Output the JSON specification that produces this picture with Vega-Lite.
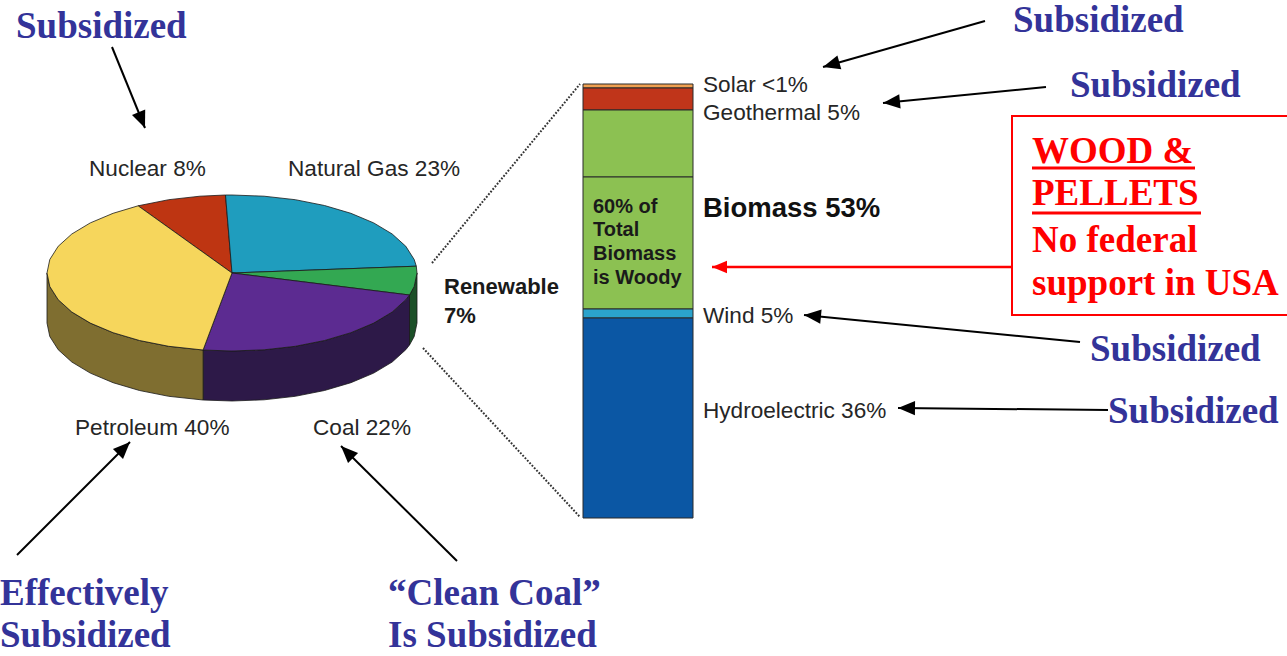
{
  "$schema": "https://vega.github.io/schema/vega-lite/v6.json",
  "width": 1287,
  "height": 656,
  "padding": 0,
  "autosize": {"type": "none"},
  "background": "white",
  "config": {"view": {"stroke": null}},
  "datasets": {
    "pie": [
      {"p": "Renewable side", "f": "side", "i": 0, "x": 417, "y": 273},
      {"p": "Renewable side", "f": "side", "i": 1, "x": 414.2, "y": 286.5},
      {"p": "Renewable side", "f": "side", "i": 2, "x": 409.5, "y": 295},
      {"p": "Renewable side", "f": "side", "i": 3, "x": 409.5, "y": 345},
      {"p": "Renewable side", "f": "side", "i": 4, "x": 414.2, "y": 336.5},
      {"p": "Renewable side", "f": "side", "i": 5, "x": 417, "y": 323},
      {"p": "Renewable side", "f": "side", "i": 6, "x": 417, "y": 273},

      {"p": "Coal side", "f": "side", "i": 0, "x": 409.5, "y": 295},
      {"p": "Coal side", "f": "side", "i": 1, "x": 405.8, "y": 299.7},
      {"p": "Coal side", "f": "side", "i": 2, "x": 392.2, "y": 312},
      {"p": "Coal side", "f": "side", "i": 3, "x": 373.7, "y": 323.1},
      {"p": "Coal side", "f": "side", "i": 4, "x": 350.9, "y": 332.7},
      {"p": "Coal side", "f": "side", "i": 5, "x": 324.5, "y": 340.5},
      {"p": "Coal side", "f": "side", "i": 6, "x": 295.3, "y": 346.3},
      {"p": "Coal side", "f": "side", "i": 7, "x": 264.1, "y": 349.8},
      {"p": "Coal side", "f": "side", "i": 8, "x": 232, "y": 351},
      {"p": "Coal side", "f": "side", "i": 9, "x": 203.1, "y": 350},
      {"p": "Coal side", "f": "side", "i": 10, "x": 203.1, "y": 400},
      {"p": "Coal side", "f": "side", "i": 11, "x": 232, "y": 401},
      {"p": "Coal side", "f": "side", "i": 12, "x": 264.1, "y": 399.8},
      {"p": "Coal side", "f": "side", "i": 13, "x": 295.3, "y": 396.3},
      {"p": "Coal side", "f": "side", "i": 14, "x": 324.5, "y": 390.5},
      {"p": "Coal side", "f": "side", "i": 15, "x": 350.9, "y": 382.7},
      {"p": "Coal side", "f": "side", "i": 16, "x": 373.7, "y": 373.1},
      {"p": "Coal side", "f": "side", "i": 17, "x": 392.2, "y": 362},
      {"p": "Coal side", "f": "side", "i": 18, "x": 405.8, "y": 349.7},
      {"p": "Coal side", "f": "side", "i": 19, "x": 409.5, "y": 345},
      {"p": "Coal side", "f": "side", "i": 20, "x": 409.5, "y": 295},

      {"p": "Petroleum side", "f": "side", "i": 0, "x": 203.1, "y": 350},
      {"p": "Petroleum side", "f": "side", "i": 1, "x": 168.7, "y": 346.3},
      {"p": "Petroleum side", "f": "side", "i": 2, "x": 139.5, "y": 340.5},
      {"p": "Petroleum side", "f": "side", "i": 3, "x": 113.1, "y": 332.7},
      {"p": "Petroleum side", "f": "side", "i": 4, "x": 90.3, "y": 323.1},
      {"p": "Petroleum side", "f": "side", "i": 5, "x": 71.8, "y": 312},
      {"p": "Petroleum side", "f": "side", "i": 6, "x": 58.2, "y": 299.7},
      {"p": "Petroleum side", "f": "side", "i": 7, "x": 49.8, "y": 286.5},
      {"p": "Petroleum side", "f": "side", "i": 8, "x": 47, "y": 273},
      {"p": "Petroleum side", "f": "side", "i": 9, "x": 47, "y": 323},
      {"p": "Petroleum side", "f": "side", "i": 10, "x": 49.8, "y": 336.5},
      {"p": "Petroleum side", "f": "side", "i": 11, "x": 58.2, "y": 349.7},
      {"p": "Petroleum side", "f": "side", "i": 12, "x": 71.8, "y": 362},
      {"p": "Petroleum side", "f": "side", "i": 13, "x": 90.3, "y": 373.1},
      {"p": "Petroleum side", "f": "side", "i": 14, "x": 113.1, "y": 382.7},
      {"p": "Petroleum side", "f": "side", "i": 15, "x": 139.5, "y": 390.5},
      {"p": "Petroleum side", "f": "side", "i": 16, "x": 168.7, "y": 396.3},
      {"p": "Petroleum side", "f": "side", "i": 17, "x": 203.1, "y": 400},
      {"p": "Petroleum side", "f": "side", "i": 18, "x": 203.1, "y": 350},

      {"p": "Nuclear", "f": "top", "i": 0, "x": 232, "y": 273},
      {"p": "Nuclear", "f": "top", "i": 1, "x": 138.1, "y": 205.8},
      {"p": "Nuclear", "f": "top", "i": 2, "x": 168.7, "y": 199.7},
      {"p": "Nuclear", "f": "top", "i": 3, "x": 199.9, "y": 196.2},
      {"p": "Nuclear", "f": "top", "i": 4, "x": 225.5, "y": 195},
      {"p": "Nuclear", "f": "top", "i": 5, "x": 232, "y": 273},

      {"p": "Natural Gas", "f": "top", "i": 0, "x": 232, "y": 273},
      {"p": "Natural Gas", "f": "top", "i": 1, "x": 225.5, "y": 195},
      {"p": "Natural Gas", "f": "top", "i": 2, "x": 232, "y": 195},
      {"p": "Natural Gas", "f": "top", "i": 3, "x": 264.1, "y": 196.2},
      {"p": "Natural Gas", "f": "top", "i": 4, "x": 295.3, "y": 199.7},
      {"p": "Natural Gas", "f": "top", "i": 5, "x": 324.5, "y": 205.5},
      {"p": "Natural Gas", "f": "top", "i": 6, "x": 350.9, "y": 213.3},
      {"p": "Natural Gas", "f": "top", "i": 7, "x": 373.7, "y": 222.9},
      {"p": "Natural Gas", "f": "top", "i": 8, "x": 392.2, "y": 234},
      {"p": "Natural Gas", "f": "top", "i": 9, "x": 405.8, "y": 246.3},
      {"p": "Natural Gas", "f": "top", "i": 10, "x": 414.2, "y": 259.5},
      {"p": "Natural Gas", "f": "top", "i": 11, "x": 416.3, "y": 266.2},
      {"p": "Natural Gas", "f": "top", "i": 12, "x": 232, "y": 273},

      {"p": "Renewable", "f": "top", "i": 0, "x": 232, "y": 273},
      {"p": "Renewable", "f": "top", "i": 1, "x": 416.3, "y": 266.2},
      {"p": "Renewable", "f": "top", "i": 2, "x": 417, "y": 273},
      {"p": "Renewable", "f": "top", "i": 3, "x": 414.2, "y": 286.5},
      {"p": "Renewable", "f": "top", "i": 4, "x": 409.5, "y": 295},
      {"p": "Renewable", "f": "top", "i": 5, "x": 232, "y": 273},

      {"p": "Coal", "f": "top", "i": 0, "x": 232, "y": 273},
      {"p": "Coal", "f": "top", "i": 1, "x": 409.5, "y": 295},
      {"p": "Coal", "f": "top", "i": 2, "x": 405.8, "y": 299.7},
      {"p": "Coal", "f": "top", "i": 3, "x": 392.2, "y": 312},
      {"p": "Coal", "f": "top", "i": 4, "x": 373.7, "y": 323.1},
      {"p": "Coal", "f": "top", "i": 5, "x": 350.9, "y": 332.7},
      {"p": "Coal", "f": "top", "i": 6, "x": 324.5, "y": 340.5},
      {"p": "Coal", "f": "top", "i": 7, "x": 295.3, "y": 346.3},
      {"p": "Coal", "f": "top", "i": 8, "x": 264.1, "y": 349.8},
      {"p": "Coal", "f": "top", "i": 9, "x": 232, "y": 351},
      {"p": "Coal", "f": "top", "i": 10, "x": 203.1, "y": 350},
      {"p": "Coal", "f": "top", "i": 11, "x": 232, "y": 273},

      {"p": "Petroleum", "f": "top", "i": 0, "x": 232, "y": 273},
      {"p": "Petroleum", "f": "top", "i": 1, "x": 203.1, "y": 350},
      {"p": "Petroleum", "f": "top", "i": 2, "x": 168.7, "y": 346.3},
      {"p": "Petroleum", "f": "top", "i": 3, "x": 139.5, "y": 340.5},
      {"p": "Petroleum", "f": "top", "i": 4, "x": 113.1, "y": 332.7},
      {"p": "Petroleum", "f": "top", "i": 5, "x": 90.3, "y": 323.1},
      {"p": "Petroleum", "f": "top", "i": 6, "x": 71.8, "y": 312},
      {"p": "Petroleum", "f": "top", "i": 7, "x": 58.2, "y": 299.7},
      {"p": "Petroleum", "f": "top", "i": 8, "x": 49.8, "y": 286.5},
      {"p": "Petroleum", "f": "top", "i": 9, "x": 47, "y": 273},
      {"p": "Petroleum", "f": "top", "i": 10, "x": 49.8, "y": 259.5},
      {"p": "Petroleum", "f": "top", "i": 11, "x": 58.2, "y": 246.3},
      {"p": "Petroleum", "f": "top", "i": 12, "x": 71.8, "y": 234},
      {"p": "Petroleum", "f": "top", "i": 13, "x": 90.3, "y": 222.9},
      {"p": "Petroleum", "f": "top", "i": 14, "x": 113.1, "y": 213.3},
      {"p": "Petroleum", "f": "top", "i": 15, "x": 138.1, "y": 205.8},
      {"p": "Petroleum", "f": "top", "i": 16, "x": 232, "y": 273}
    ]
  },
  "layer": [
    {
      "data": {"name": "pie"},
      "transform": [{"filter": "datum.f === 'side'"}],
      "mark": {"type": "line", "filled": true, "stroke": "#1a1a1a", "strokeWidth": 0.8, "strokeJoin": "round"},
      "encoding": {
        "x": {"field": "x", "type": "quantitative", "scale": {"domain": [0, 1287], "nice": false, "zero": false}, "axis": null},
        "y": {"field": "y", "type": "quantitative", "scale": {"domain": [0, 656], "nice": false, "zero": false, "reverse": true}, "axis": null},
        "order": {"field": "i", "type": "quantitative"},
        "detail": {"field": "p"},
        "color": {"field": "p", "type": "nominal", "legend": null, "scale": {
          "domain": ["Petroleum", "Nuclear", "Natural Gas", "Renewable", "Coal", "Petroleum side", "Coal side", "Renewable side", "Solar", "Geothermal", "Biomass", "Woody biomass", "Wind", "Hydroelectric"],
          "range": ["#F6D65C", "#BE3512", "#1F9DBE", "#33A852", "#5C2B91", "#7F6E30", "#2D1948", "#1C5028", "#F0A050", "#C0351A", "#8CC152", "#8CC152", "#2BA3CC", "#0B57A4"]}}
      }
    },
    {
      "data": {"name": "pie"},
      "transform": [{"filter": "datum.f === 'top'"}],
      "mark": {"type": "line", "filled": true, "stroke": "#1a1a1a", "strokeWidth": 0.8, "strokeJoin": "round"},
      "encoding": {
        "x": {"field": "x", "type": "quantitative", "scale": {"domain": [0, 1287], "nice": false, "zero": false}, "axis": null},
        "y": {"field": "y", "type": "quantitative", "scale": {"domain": [0, 656], "nice": false, "zero": false, "reverse": true}, "axis": null},
        "order": {"field": "i", "type": "quantitative"},
        "detail": {"field": "p"},
        "color": {"field": "p", "type": "nominal", "legend": null}
      }
    },
    {
      "data": {"values": [
        {"p": "Solar", "x": 583, "x2": 693, "y": 84, "y2": 88},
        {"p": "Geothermal", "x": 583, "x2": 693, "y": 88, "y2": 110},
        {"p": "Biomass", "x": 583, "x2": 693, "y": 110, "y2": 177},
        {"p": "Woody biomass", "x": 583, "x2": 693, "y": 177, "y2": 309},
        {"p": "Wind", "x": 583, "x2": 693, "y": 309, "y2": 318},
        {"p": "Hydroelectric", "x": 583, "x2": 693, "y": 318, "y2": 518}
      ]},
      "mark": {"type": "rect", "stroke": "#2a2a2a", "strokeWidth": 1},
      "encoding": {
        "x": {"field": "x", "type": "quantitative", "scale": {"domain": [0, 1287], "nice": false, "zero": false}, "axis": null},
        "x2": {"field": "x2"},
        "y": {"field": "y", "type": "quantitative", "scale": {"domain": [0, 656], "nice": false, "zero": false, "reverse": true}, "axis": null},
        "y2": {"field": "y2"},
        "color": {"field": "p", "type": "nominal", "legend": null}
      }
    },
    {
      "data": {"values": [
        {"x": 432, "y": 263, "x2": 580, "y2": 84},
        {"x": 423, "y": 348, "x2": 580, "y2": 517}
      ]},
      "mark": {"type": "rule", "color": "#333333", "strokeWidth": 2, "strokeDash": [1.8, 1.6]},
      "encoding": {
        "x": {"field": "x", "type": "quantitative", "scale": {"domain": [0, 1287], "nice": false, "zero": false}, "axis": null},
        "x2": {"field": "x2"},
        "y": {"field": "y", "type": "quantitative", "scale": {"domain": [0, 656], "nice": false, "zero": false, "reverse": true}, "axis": null},
        "y2": {"field": "y2"}
      }
    },
    {
      "data": {"values": [
        {"t": "Nuclear 8%", "x": 89, "y": 176},
        {"t": "Natural Gas 23%", "x": 288, "y": 176},
        {"t": "Petroleum 40%", "x": 75, "y": 435},
        {"t": "Coal 22%", "x": 313, "y": 435},
        {"t": "Solar <1%", "x": 703, "y": 92},
        {"t": "Geothermal 5%", "x": 703, "y": 120},
        {"t": "Wind 5%", "x": 703, "y": 323},
        {"t": "Hydroelectric 36%", "x": 703, "y": 418}
      ]},
      "mark": {"type": "text", "font": "Liberation Sans", "fontSize": 22.6, "color": "#262626", "align": "left", "baseline": "alphabetic"},
      "encoding": {
        "x": {"field": "x", "type": "quantitative", "scale": {"domain": [0, 1287], "nice": false, "zero": false}, "axis": null},
        "y": {"field": "y", "type": "quantitative", "scale": {"domain": [0, 656], "nice": false, "zero": false, "reverse": true}, "axis": null},
        "text": {"field": "t"}
      }
    },
    {
      "data": {"values": [
        {"t": "Biomass 53%", "x": 703, "y": 217}
      ]},
      "mark": {"type": "text", "font": "Liberation Sans", "fontSize": 27.5, "fontWeight": "bold", "color": "#111111", "align": "left", "baseline": "alphabetic"},
      "encoding": {
        "x": {"field": "x", "type": "quantitative", "scale": {"domain": [0, 1287], "nice": false, "zero": false}, "axis": null},
        "y": {"field": "y", "type": "quantitative", "scale": {"domain": [0, 656], "nice": false, "zero": false, "reverse": true}, "axis": null},
        "text": {"field": "t"}
      }
    },
    {
      "data": {"values": [
        {"t": "Renewable", "x": 444, "y": 294},
        {"t": "7%", "x": 444, "y": 323}
      ]},
      "mark": {"type": "text", "font": "Liberation Sans", "fontSize": 22, "fontWeight": "bold", "color": "#1a1a1a", "align": "left", "baseline": "alphabetic"},
      "encoding": {
        "x": {"field": "x", "type": "quantitative", "scale": {"domain": [0, 1287], "nice": false, "zero": false}, "axis": null},
        "y": {"field": "y", "type": "quantitative", "scale": {"domain": [0, 656], "nice": false, "zero": false, "reverse": true}, "axis": null},
        "text": {"field": "t"}
      }
    },
    {
      "data": {"values": [
        {"t": "60% of", "x": 593, "y": 213},
        {"t": "Total", "x": 593, "y": 236},
        {"t": "Biomass", "x": 593, "y": 260},
        {"t": "is Woody", "x": 593, "y": 284}
      ]},
      "mark": {"type": "text", "font": "Liberation Sans", "fontSize": 20, "fontWeight": "bold", "color": "#1a1a1a", "align": "left", "baseline": "alphabetic"},
      "encoding": {
        "x": {"field": "x", "type": "quantitative", "scale": {"domain": [0, 1287], "nice": false, "zero": false}, "axis": null},
        "y": {"field": "y", "type": "quantitative", "scale": {"domain": [0, 656], "nice": false, "zero": false, "reverse": true}, "axis": null},
        "text": {"field": "t"}
      }
    },
    {
      "data": {"values": [
        {"x": 1012, "y": 116, "x2": 1300, "y2": 315}
      ]},
      "mark": {"type": "rect", "filled": false, "stroke": "#FF0000", "strokeWidth": 2, "clip": true},
      "encoding": {
        "x": {"field": "x", "type": "quantitative", "scale": {"domain": [0, 1287], "nice": false, "zero": false}, "axis": null},
        "x2": {"field": "x2"},
        "y": {"field": "y", "type": "quantitative", "scale": {"domain": [0, 656], "nice": false, "zero": false, "reverse": true}, "axis": null},
        "y2": {"field": "y2"}
      }
    },
    {
      "data": {"values": [
        {"x": 1032, "x2": 1195, "y": 168},
        {"x": 1032, "x2": 1201, "y": 213}
      ]},
      "mark": {"type": "rule", "color": "#FF0000", "strokeWidth": 3},
      "encoding": {
        "x": {"field": "x", "type": "quantitative", "scale": {"domain": [0, 1287], "nice": false, "zero": false}, "axis": null},
        "x2": {"field": "x2"},
        "y": {"field": "y", "type": "quantitative", "scale": {"domain": [0, 656], "nice": false, "zero": false, "reverse": true}, "axis": null}
      }
    },
    {
      "data": {"values": [
        {"t": "WOOD &", "x": 1032, "y": 163},
        {"t": "PELLETS", "x": 1032, "y": 205},
        {"t": "No federal", "x": 1032, "y": 252},
        {"t": "support in USA", "x": 1032, "y": 295}
      ]},
      "mark": {"type": "text", "font": "Liberation Serif", "fontSize": 37, "fontWeight": "bold", "color": "#FF0000", "align": "left", "baseline": "alphabetic"},
      "encoding": {
        "x": {"field": "x", "type": "quantitative", "scale": {"domain": [0, 1287], "nice": false, "zero": false}, "axis": null},
        "y": {"field": "y", "type": "quantitative", "scale": {"domain": [0, 656], "nice": false, "zero": false, "reverse": true}, "axis": null},
        "text": {"field": "t"}
      }
    },
    {
      "data": {"values": [
        {"t": "Subsidized", "x": 16, "y": 38},
        {"t": "Subsidized", "x": 1013, "y": 32},
        {"t": "Subsidized", "x": 1070, "y": 97},
        {"t": "Subsidized", "x": 1090, "y": 361},
        {"t": "Subsidized", "x": 1108, "y": 423},
        {"t": "Effectively", "x": 0, "y": 605},
        {"t": "Subsidized", "x": 0, "y": 647},
        {"t": "\u201cClean Coal\u201d", "x": 388, "y": 605},
        {"t": "Is Subsidized", "x": 388, "y": 647}
      ]},
      "mark": {"type": "text", "font": "Liberation Serif", "fontSize": 37, "fontWeight": "bold", "color": "#333399", "align": "left", "baseline": "alphabetic"},
      "encoding": {
        "x": {"field": "x", "type": "quantitative", "scale": {"domain": [0, 1287], "nice": false, "zero": false}, "axis": null},
        "y": {"field": "y", "type": "quantitative", "scale": {"domain": [0, 656], "nice": false, "zero": false, "reverse": true}, "axis": null},
        "text": {"field": "t"}
      }
    },
    {
      "data": {"values": [
        {"x": 112, "y": 47, "x2": 145, "y2": 128},
        {"x": 985, "y": 21, "x2": 823, "y2": 67},
        {"x": 1046, "y": 87, "x2": 883, "y2": 103},
        {"x": 1080, "y": 342, "x2": 804, "y2": 315},
        {"x": 1108, "y": 410, "x2": 898, "y2": 408},
        {"x": 17, "y": 555, "x2": 130, "y2": 442},
        {"x": 457, "y": 561, "x2": 341, "y2": 446}
      ]},
      "mark": {"type": "rule", "color": "#000000", "strokeWidth": 2},
      "encoding": {
        "x": {"field": "x", "type": "quantitative", "scale": {"domain": [0, 1287], "nice": false, "zero": false}, "axis": null},
        "x2": {"field": "x2"},
        "y": {"field": "y", "type": "quantitative", "scale": {"domain": [0, 656], "nice": false, "zero": false, "reverse": true}, "axis": null},
        "y2": {"field": "y2"}
      }
    },
    {
      "data": {"values": [
        {"x": 112, "y": 47, "x2": 145, "y2": 128},
        {"x": 985, "y": 21, "x2": 823, "y2": 67},
        {"x": 1046, "y": 87, "x2": 883, "y2": 103},
        {"x": 1080, "y": 342, "x2": 804, "y2": 315},
        {"x": 1108, "y": 410, "x2": 898, "y2": 408},
        {"x": 17, "y": 555, "x2": 130, "y2": 442},
        {"x": 457, "y": 561, "x2": 341, "y2": 446}
      ]},
      "transform": [{"calculate": "atan2(datum.x2 - datum.x, datum.y - datum.y2) * 180 / PI", "as": "ang"}],
      "mark": {"type": "point", "shape": "M0,0 L-0.42,1 L0.42,1 Z", "filled": true, "color": "#000000", "opacity": 1, "size": 1156, "strokeWidth": 0},
      "encoding": {
        "x": {"field": "x2", "type": "quantitative", "scale": {"domain": [0, 1287], "nice": false, "zero": false}, "axis": null},
        "y": {"field": "y2", "type": "quantitative", "scale": {"domain": [0, 656], "nice": false, "zero": false, "reverse": true}, "axis": null},
        "angle": {"field": "ang", "type": "quantitative", "scale": null}
      }
    },
    {
      "data": {"values": [
        {"x": 1012, "y": 267, "x2": 712, "y2": 267}
      ]},
      "mark": {"type": "rule", "color": "#FF0000", "strokeWidth": 2.5},
      "encoding": {
        "x": {"field": "x", "type": "quantitative", "scale": {"domain": [0, 1287], "nice": false, "zero": false}, "axis": null},
        "x2": {"field": "x2"},
        "y": {"field": "y", "type": "quantitative", "scale": {"domain": [0, 656], "nice": false, "zero": false, "reverse": true}, "axis": null},
        "y2": {"field": "y2"}
      }
    },
    {
      "data": {"values": [
        {"x": 1012, "y": 267, "x2": 712, "y2": 267}
      ]},
      "transform": [{"calculate": "atan2(datum.x2 - datum.x, datum.y - datum.y2) * 180 / PI", "as": "ang"}],
      "mark": {"type": "point", "shape": "M0,0 L-0.42,1 L0.42,1 Z", "filled": true, "color": "#FF0000", "opacity": 1, "size": 900, "strokeWidth": 0},
      "encoding": {
        "x": {"field": "x2", "type": "quantitative", "scale": {"domain": [0, 1287], "nice": false, "zero": false}, "axis": null},
        "y": {"field": "y2", "type": "quantitative", "scale": {"domain": [0, 656], "nice": false, "zero": false, "reverse": true}, "axis": null},
        "angle": {"field": "ang", "type": "quantitative", "scale": null}
      }
    }
  ]
}
